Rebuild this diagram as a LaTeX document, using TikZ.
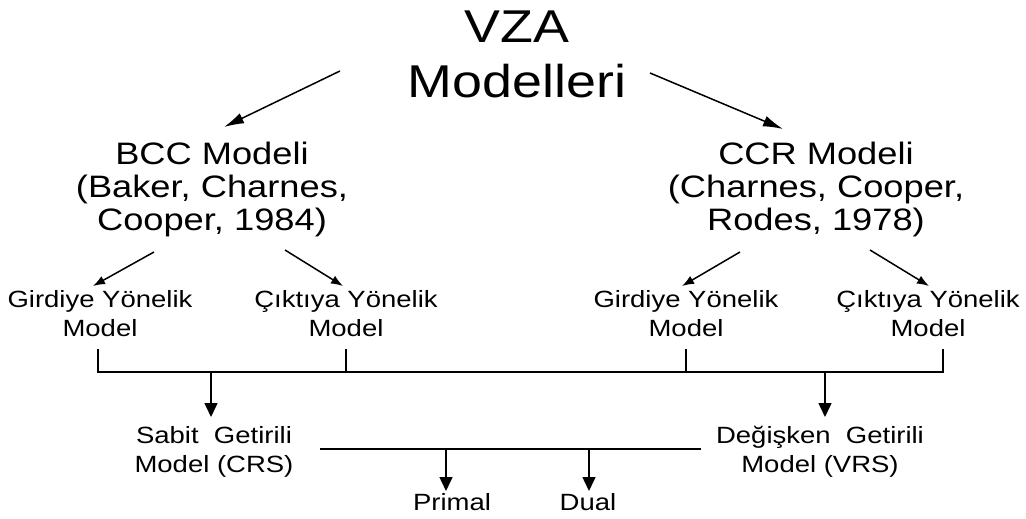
\documentclass[tikz,border=0pt]{standalone}
\usepackage{fontspec}
\setmainfont{Liberation Sans}[FakeStretch=1.17]
\usetikzlibrary{arrows.meta}
\tikzset{
  lbl/.style={inner sep=0pt, outer sep=0pt, align=center, anchor=base},
  titlefont/.style={font=\fontsize{46}{55}\selectfont},
  midfont/.style={font=\fontsize{31}{33}\selectfont},
  smallfont/.style={font=\fontsize{23.5}{28.5}\selectfont},
  line/.style={line width=1.5pt, black},
  bigarr/.style={line, -{Latex[length=20pt,width=11pt]}},
  smallarr/.style={line, -{Latex[length=12pt,width=9pt]}},
  downarr/.style={line, -{Triangle[length=14pt,width=13pt]}},
}
\begin{document}
\begin{tikzpicture}[x=1pt,y=-1pt]
\useasboundingbox (0,0) rectangle (1026,519);
% title (base anchor = baseline of last line)
\node[lbl,titlefont] (vza) at (517,98) {VZA\\Modelleri};
% middle blocks
\node[lbl,midfont] (bcc) at (212,230) {BCC Modeli\\(Baker, Charnes,\\Cooper, 1984)};
\node[lbl,midfont] (ccr) at (816,230) {CCR Modeli\\(Charnes, Cooper,\\Rodes, 1978)};
% sub labels
\node[lbl,smallfont] (gl) at (100,336) {Girdiye Yönelik\\Model};
\node[lbl,smallfont] (cl) at (346,336) {Çıktıya Yönelik\\Model};
\node[lbl,smallfont] (gr) at (686,336) {Girdiye Yönelik\\Model};
\node[lbl,smallfont] (cr) at (928,336) {Çıktıya Yönelik\\Model};
% results
\node[lbl,smallfont] (crs) at (214,472) {Sabit\ \ Getirili\\Model (CRS)};
\node[lbl,smallfont] (vrs) at (820,472) {Değişken\ \ Getirili\\Model (VRS)};
\node[lbl,smallfont] (primal) at (452,510) {Primal};
\node[lbl,smallfont] (dual) at (588,510) {Dual};
% coordinates
\coordinate (t1s) at (340,71);  \coordinate (t1e) at (224,127);
\coordinate (t2s) at (650,73);  \coordinate (t2e) at (783,129);
\coordinate (b1s) at (154,252); \coordinate (b1e) at (93,286);
\coordinate (b2s) at (285,250); \coordinate (b2e) at (343,286);
\coordinate (c1s) at (740,252); \coordinate (c1e) at (682,286);
\coordinate (c2s) at (870,250); \coordinate (c2e) at (929,286);
\coordinate (k1) at (98,349);  \coordinate (k1b) at (98,372);
\coordinate (k2) at (346,349); \coordinate (k2b) at (346,372);
\coordinate (k3) at (686,349); \coordinate (k3b) at (686,372);
\coordinate (k4) at (943,349); \coordinate (k4b) at (943,372);
\coordinate (d1) at (211,372); \coordinate (d1e) at (211,417);
\coordinate (d2) at (825,372); \coordinate (d2e) at (825,417);
\coordinate (h1) at (320,449); \coordinate (h2) at (701,449);
\coordinate (p1) at (446,449); \coordinate (p1e) at (446,491);
\coordinate (p2) at (589,449); \coordinate (p2e) at (589,491);
% arrows
\draw[bigarr] (t1s) -- (t1e);
\draw[bigarr] (t2s) -- (t2e);
\draw[smallarr] (b1s) -- (b1e);
\draw[smallarr] (b2s) -- (b2e);
\draw[smallarr] (c1s) -- (c1e);
\draw[smallarr] (c2s) -- (c2e);
% bracket
\draw[line] (k1) -- (k1b) -- (k4b) -- (k4);
\draw[line] (k2) -- (k2b);
\draw[line] (k3) -- (k3b);
\draw[downarr] (d1) -- (d1e);
\draw[downarr] (d2) -- (d2e);
% second line
\draw[line] (h1) -- (h2);
\draw[downarr] (p1) -- (p1e);
\draw[downarr] (p2) -- (p2e);
\end{tikzpicture}
\end{document}
